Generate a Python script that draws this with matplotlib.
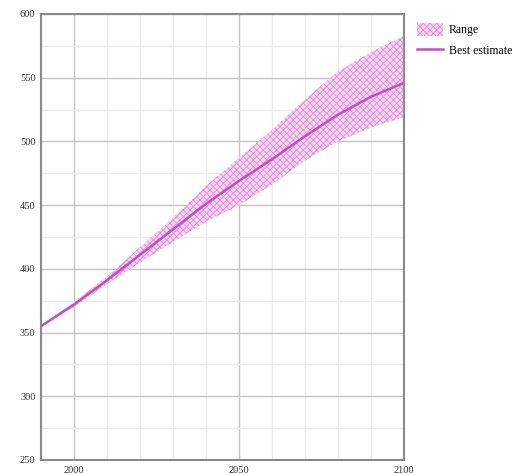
import numpy as np
import matplotlib
matplotlib.use("Agg")
import matplotlib.pyplot as plt
from matplotlib.ticker import MultipleLocator

years = [1990, 2000, 2010, 2020, 2030, 2040, 2050, 2060, 2070, 2080, 2090, 2100]
best = [355, 372, 391, 411, 431, 451, 469, 486, 504, 521, 535, 546]
upper = [355, 374, 394, 417, 440, 465, 487, 509, 533, 555, 570, 583]
lower = [355, 370, 388, 405, 421, 437, 450, 466, 485, 500, 511, 519]

plt.rcParams['font.family'] = ['Liberation Serif', 'DejaVu Serif']
plt.rcParams['hatch.color'] = '#df8fd6'
plt.rcParams['hatch.linewidth'] = 0.6

fig = plt.figure(figsize=(5.26, 4.75), dpi=100)
ax = fig.add_axes([0.078, 0.0316, 0.69, 0.939])

ax.fill_between(years, lower, upper, facecolor='#f6d4f2', edgecolor='#df8fd6',
                hatch='xxxxx', linewidth=0, label='Range', zorder=2)
ax.plot(years, best, color='#c24fbf', lw=1.8, label='Best estimate', zorder=3)

ax.set_xlim(1990, 2100)
ax.set_ylim(250, 600)
ax.set_xticks([2000, 2050, 2100])
ax.xaxis.set_minor_locator(MultipleLocator(10))
ax.yaxis.set_major_locator(MultipleLocator(50))
ax.yaxis.set_minor_locator(MultipleLocator(25))
ax.grid(which='major', color='#c4c4c4', lw=1, zorder=0)
ax.grid(which='minor', color='#ececec', lw=1, zorder=0)
ax.set_axisbelow(True)
ax.tick_params(which='both', length=0, labelsize=7.5, colors='#333333', pad=4)
for s in ax.spines.values():
    s.set_color('#8a8a8a')
    s.set_linewidth(1.5)

ax.legend(loc='upper left', bbox_to_anchor=(1.01, 1.0), frameon=False,
          fontsize=8.5, handlelength=2.2, handleheight=1.2, handletextpad=0.5,
          labelspacing=0.6, borderaxespad=0.4)

fig.savefig('out.png', dpi=100)
